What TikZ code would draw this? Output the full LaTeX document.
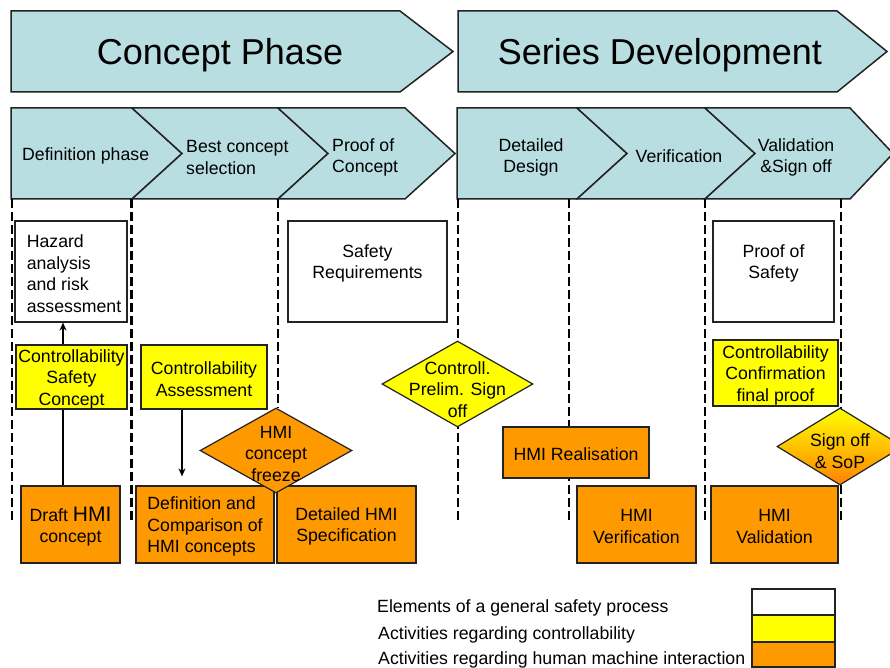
\documentclass[tikz,border=0pt]{standalone}
\usepackage{fontspec}
\setmainfont{Liberation Sans}
\usetikzlibrary{shapes.geometric,arrows.meta}
\definecolor{tealc}{RGB}{184,222,225}
\definecolor{yelc}{RGB}{255,255,0}
\definecolor{orgc}{RGB}{255,153,0}
\definecolor{bordc}{RGB}{35,35,35}
\begin{document}
\begin{tikzpicture}[x=1pt,y=-1pt,
  base/.style={font=\fontsize{17.7}{21.5}\selectfont, align=center, inner sep=0pt, text=black},
  txt/.style={base, yshift=-2pt},
  title/.style={font=\fontsize{36}{40}\selectfont, inner sep=0pt, text=black, yshift=-3pt},
  chev/.style={fill=tealc, draw=bordc, line width=1.5pt, line join=miter},
  boxw/.style={base, rectangle, draw=bordc, line width=1.2pt, fill=white},
  boxy/.style={boxw, fill=yelc},
  boxo/.style={boxw, fill=orgc},
  dia/.style={diamond, draw=bordc, line width=1.2pt, inner sep=0pt},
  dline/.style={draw=black, line width=2.2pt, dash pattern=on 9pt off 4pt},
  arr/.style={draw=black, line width=1.2pt, -{Stealth[length=8pt,width=7pt]}}
]
\useasboundingbox (0,0) rectangle (890,668);
\fill[white] (0,0) rectangle (890,668);

% top phase arrows
\draw[chev] (11,11) -- (400,11) -- (453,51.5) -- (400,92) -- (11,92) -- cycle;
\draw[chev] (458,11) -- (837,11) -- (887,51.5) -- (837,92) -- (458,92) -- cycle;
\node[title] (t1) at (220,52) {Concept Phase};
\node[title] (t2) at (660,52) {Series Development};

% chevrons
\draw[chev] (11,108) -- (132,108) -- (182,153.5) -- (132,199) -- (11,199) -- cycle;
\draw[chev] (132,108) -- (278,108) -- (328,153.5) -- (278,199) -- (132,199) -- (182,153.5) -- cycle;
\draw[chev] (278,108) -- (405,108) -- (455,153.5) -- (405,199) -- (278,199) -- (328,153.5) -- cycle;
\draw[chev] (457,108) -- (577,108) -- (627,153.5) -- (577,199) -- (457,199) -- cycle;
\draw[chev] (577,108) -- (705,108) -- (755,153.5) -- (705,199) -- (577,199) -- (627,153.5) -- cycle;
\draw[chev] (705,108) -- (850,108) -- (893,153.5) -- (850,199) -- (705,199) -- (755,153.5) -- cycle;
\node[txt, anchor=west] (c1) at (22,154) {Definition phase};
\node[txt, align=left, anchor=west] (c2) at (186,155.5) {Best concept\\selection};
\node[txt, align=left, anchor=west] (c3) at (332,155.5) {Proof of\\Concept};
\node[txt] (c4) at (531,155.5) {Detailed\\Design};
\node[txt] (c5) at (679,154) {Verification};
\node[txt] (c6) at (796,155.5) {Validation\\\&Sign off};

% dashed separators
\draw[dline] (12,199) -- (12,523);
\draw[dline] (131.5,199) -- (131.5,523);
\draw[dline] (278,199) -- (278,408);
\draw[dline] (458,199) -- (458,523);
\draw[dline] (569,199) -- (569,523);
\draw[dline] (705,199) -- (705,523);
\draw[dline] (841,199) -- (841,523);

% boxes
\node[boxw, minimum width=112pt, minimum height=101pt] (haz) at (71,271.5) {};
\node[txt, align=left] (hazt) at ([xshift=3pt]haz.center)
  {Hazard\\analysis\\and risk\\assessment};
\node[boxo, minimum width=99pt, minimum height=77pt] (draft) at (70.5,524.5) {};
\node[txt] (draftt) at (draft.center)
  {Draft {\fontsize{21}{21.5}\selectfont HMI}\\concept};
\draw[arr] ([xshift=-7.5pt]draft.north) -- ([xshift=-8pt]haz.south);
\node[boxy, minimum width=111pt, minimum height=64pt] (css) at (71.5,377) {};
\node[txt] (csst) at (css.center) {Controllability\\Safety\\Concept};

\node[boxy, minimum width=126pt, minimum height=64pt] (ca) at (204,377) {};
\node[txt] (cat) at (ca.center) {Controllability\\Assessment};
\node[boxo, minimum width=138pt, minimum height=77pt] (defc) at (205,524.5) {};
\node[txt, align=left] (defct) at (defc.center) {Definition and\\Comparison of\\HMI concepts};
\draw[arr, shorten >=9pt] ([xshift=-22pt]ca.south) -- ([xshift=-23pt]defc.north);
\node[boxo, minimum width=139pt, minimum height=77pt] (dspec) at (346.5,524.5) {};
\node[txt] (dspect) at (dspec.center) {Detailed HMI\\Specification};
\node[dia, fill=orgc, minimum width=152pt, minimum height=85pt] (frz) at (276,450.5) {};
\node[txt] (frzt) at (276,451.5) {HMI\\concept\\freeze};

\node[boxw, minimum width=159pt, minimum height=101pt] (sreq) at (367.5,271.5) {};
\node[txt] (sreqt) at (367.5,261.5) {Safety\\Requirements};
\node[dia, fill=yelc, minimum width=151pt, minimum height=86pt] (prel) at (457.5,384) {};
\node[txt] (prelt) at (457.5,387.5) {Controll.\\Prelim. Sign\\off};

\node[boxo, minimum width=146pt, minimum height=51pt] (real) at (576,452.5) {};
\node[txt] (realt) at (real.center) {HMI Realisation};
\node[boxo, minimum width=119pt, minimum height=77pt] (verif) at (636.5,524.5) {};
\node[txt] (veritf) at (verif.center) {HMI\\Verification};

\node[boxw, minimum width=121pt, minimum height=101pt] (pos) at (773.5,271.5) {};
\node[txt] (post) at (773.5,261.5) {Proof of\\Safety};
\node[boxy, minimum width=125pt, minimum height=66pt] (ccf) at (775.5,373) {};
\node[txt] (ccft) at (ccf.center) {Controllability\\Confirmation\\final proof};
\node[boxo, minimum width=127pt, minimum height=77pt] (valid) at (774.5,524.5) {};
\node[txt] (validt) at (valid.center) {HMI\\Validation};
\node[dia, top color=yelc, bottom color=orgc!85!red, minimum width=126pt, minimum height=77pt] (sop) at (840,446.5) {};
\node[txt] (sopt) at (840,449) {Sign off\\\& SoP};

% legend
\node[txt, anchor=west] (l1) at (377,606) {Elements of a general safety process};
\node[txt, anchor=west] (l2) at (378,633) {Activities regarding controllability};
\node[txt, anchor=west] (l3) at (378,658) {Activities regarding human machine interaction};
\node[boxw, minimum width=83pt, minimum height=26pt] (lw) at (793.5,602) {};
\node[boxy, minimum width=83pt, minimum height=27pt] (ly) at (793.5,628.5) {};
\node[boxo, minimum width=83pt, minimum height=25pt] (lo) at (793.5,654.5) {};
\end{tikzpicture}
\end{document}
